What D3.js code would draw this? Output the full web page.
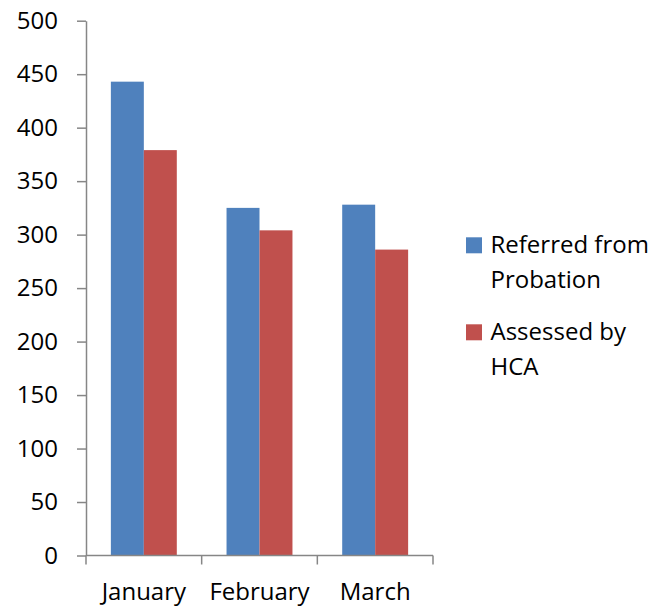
<html>
<head>
<style>
  html, body { margin: 0; padding: 0; background: #fff; }
  text { font-family: "Open Sans", sans-serif; fill: #000; }
</style>
</head>
<body>
<svg id="chart"></svg>
<script src="https://d3js.org/d3.v7.min.js"></script>
<script>
// chart data
var months = ["January", "February", "March"];
var seriesNames = ["Referred from Probation", "Assessed by HCA"];
var referred = [443, 325, 328];
var assessed = [379, 304, 286];
var yTicks = [0, 50, 100, 150, 200, 250, 300, 350, 400, 450, 500];
var colors = ["#4F81BD", "#C0504D"];

var width = 671, height = 607;
// plot area (window.top is read-only, so not using "top")
var plotLeft = 86, plotRight = 433, plotTop = 20.7, plotBottom = 555.5;
var axisColor = "#868686";
var fontSize = "24px";

var svg = d3.select("#chart").attr("width", width).attr("height", height);

var x0 = d3.scaleBand().domain(months).range([plotLeft, plotRight])
    .paddingInner(0.43).paddingOuter(0.215);
var x1 = d3.scaleBand().domain(seriesNames).range([0, x0.bandwidth()]);
var y = d3.scaleLinear().domain([0, 500]).range([plotBottom, plotTop]);

var rows = months.map(function(m, i) {
  return { month: m, values: [referred[i], assessed[i]] };
});

// bars
var groups = svg.append("g").selectAll("g")
    .data(rows)
    .enter().append("g")
    .attr("transform", function(d) { return "translate(" + x0(d.month) + ",0)"; });

groups.selectAll("rect")
    .data(function(d) { return d.values.map(function(v, j) { return { name: seriesNames[j], value: v, j: j }; }); })
    .enter().append("rect")
    .attr("x", function(d) { return x1(d.name); })
    .attr("y", function(d) { return y(d.value); })
    .attr("width", x1.bandwidth())
    .attr("height", function(d) { return plotBottom - y(d.value); })
    .attr("fill", function(d) { return colors[d.j]; });

// y axis
var yAxis = svg.append("g")
    .attr("transform", "translate(" + plotLeft + ",0)")
    .call(d3.axisLeft(y).tickValues(yTicks).tickSize(9).tickPadding(19).tickSizeOuter(0));
yAxis.attr("font-family", null).attr("font-size", null);
yAxis.select(".domain").attr("stroke", axisColor).attr("stroke-width", 1.5);
yAxis.selectAll(".tick line").attr("stroke", axisColor).attr("stroke-width", 1.5);
yAxis.selectAll(".tick text").style("font-size", fontSize).attr("fill", "#000");

// x axis: line + boundary ticks between categories
var xAxis = svg.append("g");
xAxis.append("line")
    .attr("x1", plotLeft).attr("x2", plotRight)
    .attr("y1", plotBottom).attr("y2", plotBottom)
    .attr("stroke", axisColor).attr("stroke-width", 1.5);
var step = x0.step();
var bounds = d3.range(months.length + 1).map(function(i) { return plotLeft + i * step; });
xAxis.selectAll("line.bt")
    .data(bounds)
    .enter().append("line")
    .attr("class", "bt")
    .attr("x1", function(d) { return d; }).attr("x2", function(d) { return d; })
    .attr("y1", plotBottom).attr("y2", plotBottom + 9)
    .attr("stroke", axisColor).attr("stroke-width", 1.5);
xAxis.selectAll("text")
    .data(months)
    .enter().append("text")
    .attr("x", function(d) { return x0(d) + x0.bandwidth() / 2; })
    .attr("y", 600)
    .attr("text-anchor", "middle")
    .style("font-size", fontSize)
    .text(function(d) { return d; });

// legend
var legendLines = [["Referred from", "Probation"], ["Assessed by", "HCA"]];
var legend = svg.append("g").selectAll("g")
    .data(legendLines)
    .enter().append("g")
    .attr("transform", function(d, i) { return "translate(466," + (237.3 + i * 87) + ")"; });
legend.append("rect")
    .attr("width", 16).attr("height", 16)
    .attr("fill", function(d, i) { return colors[i]; });
legend.append("text")
    .attr("x", 24.5)
    .attr("y", 16)
    .style("font-size", fontSize)
    .selectAll("tspan")
    .data(function(d) { return d; })
    .enter().append("tspan")
    .attr("x", 24.5)
    .attr("dy", function(d, i) { return i === 0 ? 0 : 35; })
    .text(function(d) { return d; });
</script>
</body>
</html>
